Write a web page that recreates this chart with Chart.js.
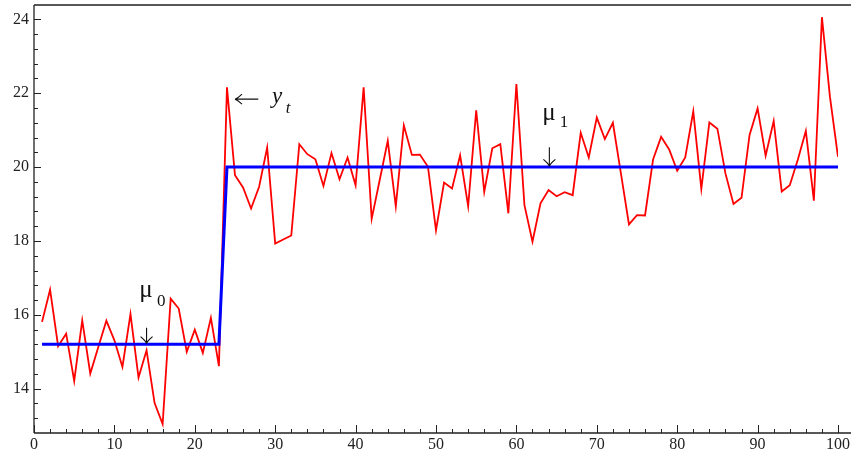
<!DOCTYPE html>
<html>
<head>
<meta charset="utf-8">
<script src="https://cdn.jsdelivr.net/npm/chart.js@4"></script>
<style>
  body { margin: 0; background: #fff; }
</style>
</head>
<body>
<canvas id="shiftChart" width="851" height="455"></canvas>
<script>
// observed series y_t, t = 1..100
let yValues = [15.81, 16.68, 15.15, 15.49, 14.21, 15.85, 14.41, 15.13, 15.84, 15.31,
  14.59, 16.02, 14.30, 15.04, 13.61, 13.04, 16.44, 16.17, 15.00, 15.60,
  14.97, 15.92, 14.61, 22.16, 19.78, 19.45, 18.88, 19.47, 20.53, 17.93,
  18.04, 18.15, 20.62, 20.35, 20.21, 19.49, 20.38, 19.67, 20.26, 19.51,
  22.16, 18.60, 19.65, 20.71, 18.94, 21.13, 20.33, 20.34, 20.01, 18.29,
  19.58, 19.42, 20.32, 18.94, 21.54, 19.33, 20.51, 20.62, 18.75, 22.25,
  18.97, 17.98, 19.02, 19.38, 19.21, 19.32, 19.24, 20.93, 20.26, 21.34,
  20.76, 21.20, 19.83, 18.45, 18.70, 18.69, 20.21, 20.82, 20.48, 19.90,
  20.26, 21.51, 19.41, 21.21, 21.04, 19.83, 19.00, 19.17, 20.87, 21.59,
  20.31, 21.25, 19.34, 19.51, 20.20, 20.98, 19.09, 24.06, 21.90, 20.28];
let tValues = yValues.map((v, i) => i + 1);

// mean level: mu0 then mu1
let meanT = [1, 23, 24, 100];
let meanY = [15.2, 15.2, 20, 20];

let xTicks = [0, 10, 20, 30, 40, 50, 60, 70, 80, 90, 100];
let yTicks = [14, 16, 18, 20, 22, 24];

let axisColor = '#222';
let serif = '"Liberation Serif", "DejaVu Serif", serif';

//draws the frame, inward ticks and the mu / y_t notes
let framePlugin = {
  id: 'frame',
  afterDraw(chart) {
    let ctx = chart.ctx;
    let a = chart.chartArea;
    let xs = chart.scales.x, ys = chart.scales.y;
    let W = chart.width;
    ctx.save();
    ctx.strokeStyle = axisColor;
    ctx.lineWidth = 1.3;
    ctx.beginPath();
    ctx.moveTo(a.left, a.top); ctx.lineTo(W, a.top);
    ctx.moveTo(a.left, a.top); ctx.lineTo(a.left, a.bottom);
    ctx.moveTo(a.left, a.bottom); ctx.lineTo(W, a.bottom);
    ctx.stroke();

    ctx.lineWidth = 1;
    ctx.beginPath();
    for (let v = 0; v <= 100; v += 2) {
      let px = Math.round(xs.getPixelForValue(v)) + 0.5;
      let len = (v % 10 === 0) ? 8 : 4;
      ctx.moveTo(px, a.bottom); ctx.lineTo(px, a.bottom - len);
    }
    for (let k = 0; k <= 28; k++) {
      let v = 13.2 + k * 0.4;
      if (v > ys.max) break;
      let py = Math.round(ys.getPixelForValue(v)) + 0.5;
      let major = Math.abs(v - Math.round(v)) < 0.01 && Math.round(v) % 2 === 0;
      ctx.moveTo(a.left, py); ctx.lineTo(a.left + (major ? 7 : 4), py);
    }
    ctx.stroke();

    // notes
    ctx.fillStyle = '#111';
    ctx.strokeStyle = '#111';
    ctx.lineWidth = 1.1;
    ctx.textBaseline = 'alphabetic';
    ctx.textAlign = 'left';

    function downArrow(x, yTop, yTip) {
      let px = xs.getPixelForValue(x);
      let top = ys.getPixelForValue(yTop), tip = ys.getPixelForValue(yTip);
      ctx.beginPath();
      ctx.moveTo(px, top); ctx.lineTo(px, tip);
      ctx.moveTo(px - 6, tip - 7); ctx.quadraticCurveTo(px - 1, tip - 3, px, tip);
      ctx.moveTo(px + 6, tip - 7); ctx.quadraticCurveTo(px + 1, tip - 3, px, tip);
      ctx.stroke();
    }

    ctx.font = '25px ' + serif;
    ctx.fillText('\u03BC', xs.getPixelForValue(13.1), ys.getPixelForValue(16.48));
    ctx.font = '17px ' + serif;
    ctx.fillText('0', xs.getPixelForValue(15.3), ys.getPixelForValue(16.24));
    downArrow(14, 15.65, 15.22);

    ctx.font = '25px ' + serif;
    ctx.fillText('\u03BC', xs.getPixelForValue(63.2), ys.getPixelForValue(21.28));
    ctx.font = '17px ' + serif;
    ctx.fillText('1', xs.getPixelForValue(65.4), ys.getPixelForValue(21.09));
    downArrow(64.1, 20.54, 20.02);

    // left arrow pointing at y_t
    let ax0 = xs.getPixelForValue(25.0), ax1 = xs.getPixelForValue(27.9);
    let ay = ys.getPixelForValue(21.84);
    ctx.beginPath();
    ctx.moveTo(ax0, ay); ctx.lineTo(ax1, ay);
    ctx.moveTo(ax0 + 7, ay - 5); ctx.quadraticCurveTo(ax0 + 3, ay - 1, ax0, ay);
    ctx.moveTo(ax0 + 7, ay + 5); ctx.quadraticCurveTo(ax0 + 3, ay + 1, ax0, ay);
    ctx.stroke();
    ctx.font = 'italic 23px ' + serif;
    ctx.fillText('y', xs.getPixelForValue(29.6), ys.getPixelForValue(21.73));
    ctx.font = 'italic 17px ' + serif;
    ctx.fillText('t', xs.getPixelForValue(31.3), ys.getPixelForValue(21.46));
    ctx.restore();
  }
};

let shiftChart = new Chart(document.getElementById('shiftChart'), {
  type: 'line',
  data: {
    datasets: [{
      label: 'y_t',
      data: tValues.map((t, i) => ({x: t, y: yValues[i]})),
      borderColor: '#ff0000',
      borderWidth: 1.8,
      pointRadius: 0,
      tension: 0,
      order: 2
    }, {
      label: 'mu',
      data: meanT.map((t, i) => ({x: t, y: meanY[i]})),
      borderColor: '#0000ff',
      borderWidth: 3,
      pointRadius: 0,
      tension: 0,
      order: 1
    }]
  },
  options: {
    responsive: false,
    animation: false,
    layout: {padding: {left: 0, right: 13, top: 5, bottom: 0}},
    plugins: {legend: {display: false}, tooltip: {enabled: false}},
    scales: {
      x: {
        type: 'linear',
        min: 0, max: 100,
        grid: {display: false, drawTicks: false},
        border: {display: false},
        afterBuildTicks: s => { s.ticks = xTicks.map(v => ({value: v})); },
        afterFit: s => { s.height = 22; s.paddingLeft = 0; s.paddingRight = 0; },
        ticks: {padding: 2, color: axisColor, font: {family: serif, size: 16}, maxRotation: 0}
      },
      y: {
        type: 'linear',
        min: 12.8, max: 24.39,
        grid: {display: false, drawTicks: false},
        border: {display: false},
        afterBuildTicks: s => { s.ticks = yTicks.map(v => ({value: v})); },
        afterFit: s => { s.width = 34; s.paddingTop = 0; s.paddingBottom = 0; },
        ticks: {padding: 5, color: axisColor, font: {family: serif, size: 16}}
      }
    }
  },
  plugins: [framePlugin]
});
</script>
</body>
</html>
